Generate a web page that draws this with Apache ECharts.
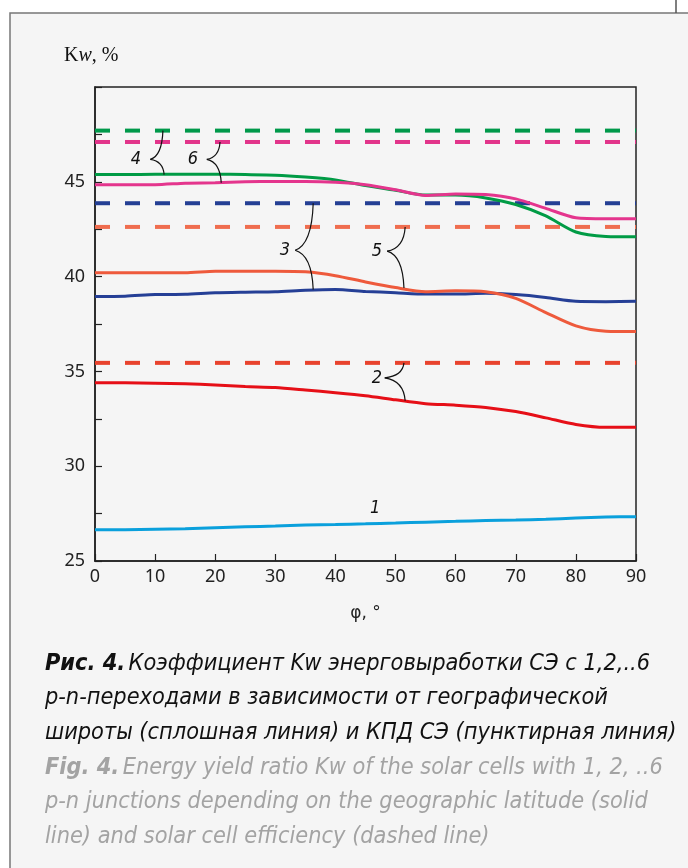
<!DOCTYPE html>
<html>
<head>
<meta charset="utf-8">
<script src="https://cdn.jsdelivr.net/npm/echarts@6/dist/echarts.min.js"></script>
<style>
html,body{margin:0;padding:0;background:#fff;}
#c{width:688px;height:868px;}
</style>
</head>
<body>
<div id="c"></div>
<script>
// latitude, degrees
var phi = [0,5,10,15,20,25,30,35,40,45,50,55,60,65,70,75,80,85,90];
// Kw (solid lines), %
var kw1 = [26.65,26.65,26.67,26.7,26.76,26.8,26.84,26.9,26.93,26.96,27.0,27.05,27.09,27.13,27.16,27.2,27.27,27.32,27.34];
var kw2 = [34.4,34.4,34.38,34.35,34.28,34.2,34.15,34.02,33.88,33.72,33.5,33.3,33.22,33.1,32.88,32.55,32.2,32.05,32.05];
var kw3 = [38.95,38.97,39.05,39.07,39.15,39.18,39.2,39.28,39.32,39.22,39.15,39.08,39.08,39.12,39.05,38.9,38.7,38.68,38.7];
var kw4 = [45.38,45.38,45.4,45.4,45.4,45.38,45.35,45.25,45.1,44.8,44.55,44.3,44.3,44.15,43.8,43.2,42.35,42.12,42.1];
var kw5 = [40.2,40.2,40.2,40.2,40.28,40.28,40.28,40.25,40.05,39.72,39.42,39.2,39.25,39.2,38.85,38.1,37.4,37.12,37.1];
var kw6 = [44.85,44.85,44.85,44.93,44.95,45.0,45.02,45.02,44.98,44.85,44.58,44.28,44.36,44.33,44.1,43.6,43.1,43.05,43.05];
// efficiency (dashed lines), %
var eff2 = 35.45, eff3 = 43.87, eff4 = 47.7, eff5 = 42.62, eff6 = 47.1;
var phiRange = [0, 90];
// curve labels: text, label point, brace tip, upper end, lower end
var braceText = ['4','6','3','5','2','1'];
var braceLabel = [[6.8,46.18],[16.3,46.18],[31.6,41.39],[46.9,41.34],[46.9,34.66],[46.6,27.8]];
var braceTip = [[9.2,46.18],[18.6,46.18],[33.3,41.39],[48.6,41.34],[48.2,34.66],null];
var braceTop = [[11.3,47.7],[20.8,47.1],[36.3,43.87],[51.6,42.62],[51.4,35.45],null];
var braceBottom = [[11.5,45.38],[21.0,44.95],[36.3,39.32],[51.4,39.4],[51.6,33.45],null];
var yTicks = {min:25, max:50, step:2.5};
var xTicks = {min:0, max:90, step:10};

function pairs(xs, ys){ return xs.map(function(x,i){ return [x, ys[i]]; }); }
function flat(v){ return [[phiRange[0], v],[phiRange[1], v]]; }

var chart = echarts.init(document.getElementById('c'), null, {renderer:'canvas'});

function solid(name, ys, color){
  return {name:name, type:'line', data:pairs(phi, ys), showSymbol:false, smooth:0.25,
    lineStyle:{color:color, width:3}, itemStyle:{color:color}, z:3, silent:true};
}
function dashed(name, v, color){
  return {name:name, type:'line', data:flat(v), showSymbol:false,
    lineStyle:{color:color, width:4, type:[15,15]}, itemStyle:{color:color}, z:2, silent:true};
}

function braceCurve(t, e){
  var dx = e[0]-t[0], dy = e[1]-t[1];
  return {type:'bezierCurve', shape:{x1:t[0], y1:t[1], cpx1:t[0]+dx*0.6, cpy1:t[1]+dy*0.08,
      cpx2:e[0]-dx*0.05, cpy2:t[1]+dy*0.4, x2:e[0], y2:e[1]},
    style:{stroke:'#111', lineWidth:1.2, fill:null}};
}

var braceData = braceText.map(function(t,i){ return [braceLabel[i][0], braceLabel[i][1], i]; });

var capFont = 'DejaVu Sans Condensed';
var capSize = 23.3;
var capLH = 34.7;

var option = {
  animation:false,
  backgroundColor:'#ffffff',
  graphic:[
    {type:'rect', z:-10, shape:{x:10,y:13,width:700,height:900}, style:{fill:'#f5f5f5', stroke:'#777', lineWidth:1.5}},
    {type:'line', z:-10, shape:{x1:676,y1:0,x2:676,y2:13}, style:{stroke:'#555', lineWidth:1.5}},
    {type:'text', left:64, top:46, style:{
      text:'{a|K}{b|w}{a|, %}',
      rich:{a:{fontFamily:'Liberation Serif', fontSize:20, fill:'#111'},
            b:{fontFamily:'Liberation Serif', fontStyle:'italic', fontSize:20, fill:'#111'}}}},
    {type:'text', left:45, top:652, style:{
      text:'{b|Рис. 4.} {r|Коэффициент Kw энерговыработки СЭ с 1,2,..6}\n{r|p-n-переходами в зависимости от географической}\n{r|широты (сплошная линия) и КПД СЭ (пунктирная линия)}\n{gb|Fig. 4.} {g|Energy yield ratio Kw of the solar cells with 1, 2, ..6}\n{g|p-n junctions depending on the geographic latitude (solid}\n{g|line) and solar cell efficiency (dashed line)}',
      rich:{
        b:{fontFamily:capFont, fontStyle:'italic', fontWeight:'bold', fontSize:capSize, fill:'#111', lineHeight:capLH},
        r:{fontFamily:capFont, fontStyle:'italic', fontSize:capSize, fill:'#111', lineHeight:capLH},
        gb:{fontFamily:capFont, fontStyle:'italic', fontWeight:'bold', fontSize:capSize, fill:'#a3a3a3', lineHeight:capLH},
        g:{fontFamily:capFont, fontStyle:'italic', fontSize:capSize, fill:'#a3a3a3', lineHeight:capLH}
      }}}
  ],
  grid:{left:95, right:52, top:87, bottom:307, show:true, borderColor:'#222', borderWidth:1.5, backgroundColor:'transparent'},
  xAxis:{type:'value', min:xTicks.min, max:xTicks.max, interval:xTicks.step,
    name:'φ, °', nameLocation:'middle', nameGap:44,
    nameTextStyle:{fontFamily:'DejaVu Sans', fontSize:17, color:'#222'},
    axisLine:{lineStyle:{color:'#222', width:1.5}},
    axisTick:{inside:true, length:7, lineStyle:{color:'#222', width:1.2}},
    axisLabel:{fontFamily:'Noto Sans', fontSize:18, color:'#222', margin:7},
    splitLine:{show:false}},
  yAxis:{type:'value', min:yTicks.min, max:yTicks.max, interval:yTicks.step,
    axisLine:{show:true, lineStyle:{color:'#222', width:1.5}},
    axisTick:{show:true, inside:true, length:7, lineStyle:{color:'#222', width:1.2}},
    axisLabel:{fontFamily:'Noto Sans', fontSize:18, color:'#222', margin:10,
      formatter:function(v){ return (v % 5 === 0 && v !== yTicks.max) ? String(v) : ''; }},
    splitLine:{show:false}},
  series:[
    dashed('η2', eff2, '#e8432d'),
    dashed('η3', eff3, '#243f94'),
    dashed('η5', eff5, '#ef6d4f'),
    dashed('η4', eff4, '#00994a'),
    dashed('η6', eff6, '#e2348a'),
    solid('1', kw1, '#0aa0dc'),
    solid('2', kw2, '#e60f17'),
    solid('3', kw3, '#253f96'),
    solid('5', kw5, '#ee5a3c'),
    solid('4', kw4, '#009b45'),
    solid('6', kw6, '#e4358d'),
    {type:'custom', name:'labels', data:braceData, z:10, silent:true,
      renderItem:function(params, api){
        var i = api.value(2);
        var lp = api.coord([api.value(0), api.value(1)]);
        var children = [{type:'text', style:{text:braceText[i], x:lp[0], y:lp[1], align:'center', verticalAlign:'middle',
          font:'italic 18px "DejaVu Sans Condensed"', fill:'#111'}}];
        if (braceTip[i]) {
          var t = api.coord(braceTip[i]);
          children.push(braceCurve(t, api.coord(braceTop[i])));
          children.push(braceCurve(t, api.coord(braceBottom[i])));
        }
        return {type:'group', children:children};
      }}
  ]
};
chart.setOption(option);
</script>
</body>
</html>
